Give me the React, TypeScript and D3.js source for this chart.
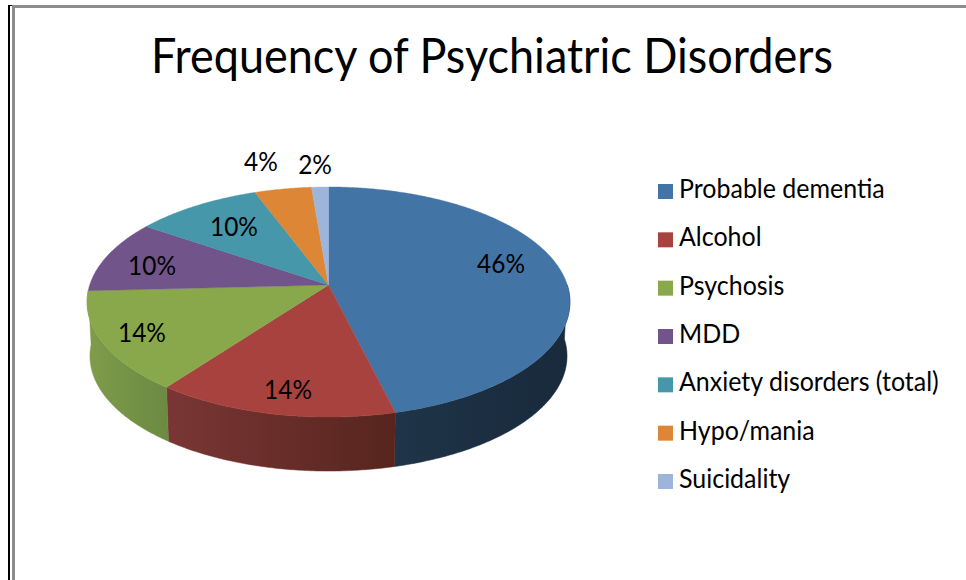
import React from "react";
import * as d3 from "d3";

const categories = ["Probable dementia", "Alcohol", "Psychosis", "MDD", "Anxiety disorders (total)", "Hypo/mania", "Suicidality"];
const values = [46.15, 14.05, 14.0, 10.3, 9.8, 4.4, 1.3];
const valueLabels = ["46%", "14%", "14%", "10%", "10%", "4%", "2%"];
const colors = ["#4374a6", "#a8423e", "#89a84c", "#71548a", "#4597a9", "#dc8636", "#9db5da"];
const wallLeft = ["#1f3448", "#7a3634", "#7f9c4a", "#5c4470", "#3a7d8c", "#b06c2a", "#8096b4"];
const wallRight = ["#182a3c", "#57251e", "#6c8a42", "#5c4470", "#3a7d8c", "#b06c2a", "#8096b4"];

// Label anchors in pie-disc coordinates (u right, v toward viewer), projected below.
const labelU = [0.743, -0.149, -0.735, -0.759, -0.429, -0.338, -0.067];
const labelV = [-0.192, 0.82, 0.401, -0.182, -0.568, -1.316, -1.266];

const CX = 328.5, R = 238.8, CY = 285, A = 70.4, K = 0.1478, DEPTH = 54, RIM = 0.988;

const proj = (u: number, v: number): [number, number] => {
  const w = 1 - K * v;
  return [CX + (R * u) / w, (A * v + CY) / w];
};
const onCircle = (t: number): [number, number] => proj(Math.sin(t), -Math.cos(t));
const onBase = (t: number): [number, number] => {
  const [x, y] = onCircle(t);
  return [CX + (x - CX) * RIM, y + DEPTH];
};
const arcPts = (a: number, b: number, f: (t: number) => [number, number]) => {
  const n = Math.max(2, Math.ceil(Math.abs(b - a) / 0.01));
  return d3.range(n + 1).map((i) => f(a + ((b - a) * i) / n));
};

export default function App() {
  const slices = d3.pie<number>().sort(null).value((d) => d)(values);
  const color = d3.scaleOrdinal<string, string>().domain(categories).range(colors);
  const line = d3.line();
  const legendY = d3.scalePoint<string>().domain(categories).range([191.5, 481.5]);
  const apex = proj(0, 0);
  const front0 = Math.PI / 2;
  const front1 = slices[2].endAngle;
  return (
    <svg width={966} height={580} style={{ position: "absolute", left: 0, top: 0, background: "#fff" }}>
      <defs>
        {slices.map((s, i) => {
          const a = Math.max(s.startAngle, front0), b = Math.min(s.endAngle, front1);
          if (b <= a) return null;
          const [x0] = onCircle(a), [x1] = onCircle(b);
          return (
            <linearGradient key={i} id={`wall${i}`} gradientUnits="userSpaceOnUse" x1={x1} y1={0} x2={x0} y2={0}>
              <stop offset="0" stopColor={wallLeft[i]} />
              <stop offset="1" stopColor={wallRight[i]} />
            </linearGradient>
          );
        })}
      </defs>
      {/* page frame */}
      <rect x={8} y={5} width={2} height={575} fill="#000" />
      <rect x={8} y={5} width={5} height={1} fill="#000" />
      <rect x={12} y={5} width={954} height={3} fill="#8c8c8c" />
      <rect x={12} y={5} width={3} height={575} fill="#8c8c8c" />

      <text x={492} y={73} textAnchor="middle" fontFamily="Lato" fontSize={48} fill="#000" textLength={682} lengthAdjust="spacingAndGlyphs">
        Frequency of Psychiatric Disorders
      </text>

      {slices.map((s, i) => {
        const a = Math.max(s.startAngle, front0), b = Math.min(s.endAngle, front1);
        if (b <= a) return null;
        const pts = [...arcPts(a, b, onCircle), ...arcPts(b, a, onBase)];
        return <path key={i} d={line(pts) + "Z"} fill={`url(#wall${i})`} stroke={`url(#wall${i})`} strokeWidth={0.5} />;
      })}
      {slices.map((s, i) => {
        const pts = [apex, ...arcPts(s.startAngle, s.endAngle, onCircle)];
        return <path key={i} d={line(pts) + "Z"} fill={color(categories[i])} stroke={color(categories[i])} strokeWidth={0.4} />;
      })}
      {valueLabels.map((t, i) => {
        const [x, y] = proj(labelU[i], labelV[i]);
        return (
          <text key={i} transform={`translate(${x},${y + 9.5}) scale(0.94,1)`} textAnchor="middle" fontFamily="Lato" fontSize={26} fill="#000">
            {t}
          </text>
        );
      })}
      {categories.map((c) => {
        const y = legendY(c) as number;
        return (
          <g key={c}>
            <rect x={658} y={y - 7.5} width={15} height={15} fill={color(c)} />
            <text transform={`translate(679,${y + 6.5}) scale(0.925,1)`} fontFamily="Lato" fontSize={27} fill="#000">
              {c}
            </text>
          </g>
        );
      })}
    </svg>
  );
}
